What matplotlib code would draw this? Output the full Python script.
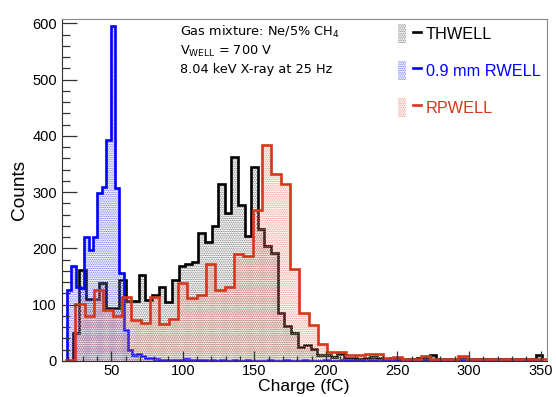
import matplotlib
matplotlib.use("Agg")
import matplotlib.pyplot as plt
import numpy as np
from matplotlib.patches import Patch
from matplotlib.lines import Line2D
from matplotlib.legend_handler import HandlerTuple

# THWELL: bins start at 23.1 fC, width 4.62 fC
th_start, th_width = 23.1, 4.62
th_counts = [49, 162, 110, 110, 139, 95, 95, 144, 107, 107, 153, 108, 118, 131, 105,
             144, 169, 172, 176, 227, 212, 240, 314, 263, 363, 277, 222, 345, 234, 204,
             192, 85, 62, 50, 24, 28, 22, 11, 11, 7, 12,
             5, 5, 4, 6, 7, 6, 4, 5, 4, 3, 4, 5, 4, 10, 4, 3, 3, 4, 3, 3,
             4, 3, 3, 3, 3, 4, 3, 3, 3, 10]

# 0.9 mm RWELL: bins start at 19.0 fC, width 3.05 fC
rw_start, rw_width = 19.0, 3.05
rw_counts = [127, 169, 131, 130, 220, 198, 220, 299, 310, 393, 596, 307, 156, 55, 19,
             11, 12, 8, 5, 5, 3, 2, 2, 2, 2,
             1, 2, 3, 1, 1, 1, 1, 0, 1, 0, 1, 0, 0, 1, 0, 0, 1, 0, 0, 0,
             0, 1, 0, 0, 0, 1, 0, 0, 0, 1, 0, 0, 0, 0, 1, 0, 0, 0, 1, 2,
             1, 0, 0, 0, 0, 1, 0, 0, 0, 0, 1, 0, 0, 0, 0, 0, 2, 1, 0, 0,
             0, 0, 0, 0, 0, 2, 1, 0, 0, 0, 0, 0, 1, 0, 0, 0, 0, 0, 0, 1, 0, 0, 0, 0]

# RPWELL: bins start at 18.5 fC, width 6.52 fC
rp_start, rp_width = 18.5, 6.52
rp_counts = [2, 101, 80, 127, 91, 80, 113, 72, 68, 113, 66,
             75, 138, 112, 118, 172, 126, 132, 190, 186, 268, 384, 333, 314, 163,
             85, 64, 30, 16, 16, 10,
             10, 12, 12, 5, 7, 4, 4, 8, 4, 4, 4, 8, 4, 3, 3, 3, 3, 3, 3, 3, 3]

labels = ["THWELL", "0.9 mm RWELL", "RPWELL"]
colors = ["black", "#0000ff", "#d4371a"]
hatch_colors = ["#6e6e6e", "#5a5aff", "#ec8a74"]

info_lines = ["Gas mixture: Ne/5% CH$_4$",
              "V$_{\\mathrm{WELL}}$ = 700 V",
              "8.04 keV X-ray at 25 Hz"]

plt.rcParams['font.family'] = ['Liberation Sans', 'DejaVu Sans']
plt.rcParams['hatch.linewidth'] = 0.6

fig = plt.figure(figsize=(5.56, 3.97), dpi=100)
ax = fig.add_axes([0.111, 0.0907, 0.872, 0.8615])

hists = [(th_start, th_width, th_counts),
         (rw_start, rw_width, rw_counts),
         (rp_start, rp_width, rp_counts)]

pattern = '.........'
handles = []
for (start, width, counts), lab, col, hcol in zip(hists, labels, colors, hatch_colors):
    edges = start + width * np.arange(len(counts) + 1)
    ax.stairs(counts, edges, fill=True, facecolor='none', edgecolor=hcol,
              hatch=pattern, linewidth=0)
    ax.stairs(counts, edges, color=col, linewidth=1.9, baseline=0)
    handles.append((Patch(facecolor='none', edgecolor=hcol, hatch=pattern, linewidth=0),
                    Line2D([], [], color=col, linewidth=1.9)))

ax.set_xlim(15.4, 354.2)
ax.set_ylim(0, 608)

ax.set_xticks(np.arange(50, 351, 50))
ax.set_xticks(np.arange(20, 351, 10), minor=True)
ax.set_yticks(np.arange(0, 601, 100))
ax.set_yticks(np.arange(0, 608, 20), minor=True)
ax.tick_params(axis='both', which='both', direction='in', labelsize=10.5,
               colors='#333333', labelcolor='black', width=0.9)
ax.tick_params(axis='y', which='major', length=10.8)
ax.tick_params(axis='y', which='minor', length=5.8)
ax.tick_params(axis='x', which='major', length=7.2, pad=2.5)
ax.tick_params(axis='x', which='minor', length=3.6)

for side in ['left', 'bottom']:
    ax.spines[side].set_color('#333333')
for side in ['top', 'right']:
    ax.spines[side].set_color('#888888')

ax.set_xlabel("Charge (fC)", fontsize=12.6)
ax.set_ylabel("Counts", fontsize=13.7)
ax.xaxis.set_label_coords(0.5, -0.053)
ax.yaxis.set_label_coords(-0.07, 0.5)

for line, ypos in zip(info_lines, [0.963, 0.906, 0.852]):
    ax.text(0.245, ypos, line, transform=ax.transAxes, fontsize=9.3,
            family='DejaVu Sans', va='center', ha='left')

leg = ax.legend(handles, labels, handler_map={tuple: HandlerTuple(ndivide=None)},
                loc='upper left', bbox_to_anchor=(0.68, 1.003), frameon=False,
                fontsize=11.7, handlelength=1.45, handleheight=1.4,
                handletextpad=0.25, labelspacing=1.1, borderaxespad=0)
for txt, col in zip(leg.get_texts(), colors):
    txt.set_color(col)

fig.savefig("out.png", dpi=100)
